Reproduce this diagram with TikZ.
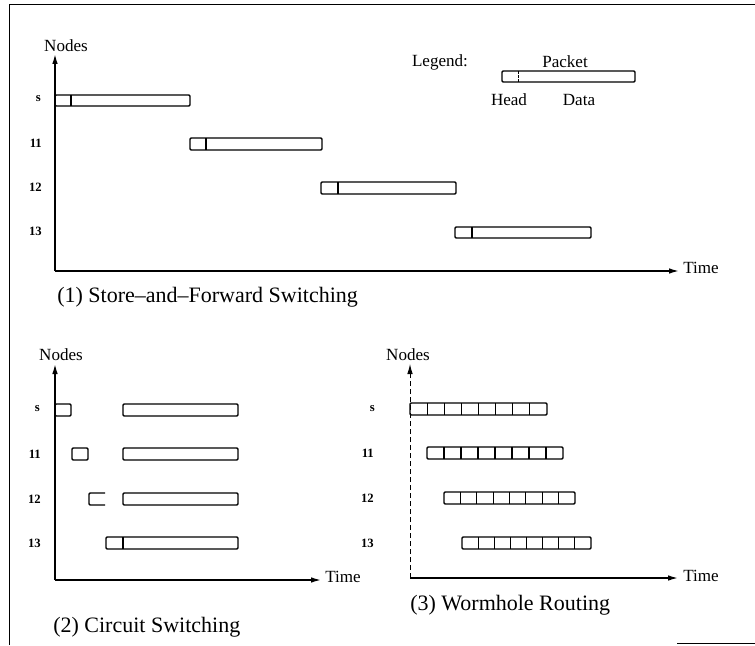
\documentclass[tikz,border=0pt]{standalone}
\usepackage{fontspec}
\setmainfont{Liberation Serif}
\usetikzlibrary{arrows.meta}
\begin{document}
\begin{tikzpicture}[x=0.75pt,y=-0.75pt,
  ln/.style={line width=0.8pt},
  bar/.style={draw, line width=1.1pt, rounded corners=0.8pt},
  axis/.style={line width=1.1pt, -{Latex[length=7.5pt,width=4.2pt]}},
  daxis/.style={line width=0.7pt, dash pattern=on 4pt off 2pt, -{Latex[length=7.5pt,width=4.2pt]}},
  lbl/.style={font=\fontsize{12.8}{14}\selectfont, inner sep=0pt},
  rowlbl/.style={font=\fontsize{9.5}{11}\selectfont\bfseries, inner sep=0pt, anchor=east},
  captxt/.style={font=\fontsize{16.5}{19}\selectfont, inner sep=0pt, anchor=west}]
\useasboundingbox (0,0) rectangle (755,645);
% frame
\coordinate (f1) at (9.5,645); \coordinate (f2) at (9.5,4.5); \coordinate (f3) at (755,4.5);
\draw[line width=1.3pt] (f1) -- (f2) -- (f3);
\coordinate (fb1) at (677,643.5); \coordinate (fb2) at (755,643.5);
\draw[line width=1.3pt] (fb1) -- (fb2);

% ---------- Panel 1 ----------
\coordinate (o1) at (55,271);
\coordinate (y1) at (55,54);
\coordinate (x1) at (679,271);
\draw[axis] (o1) -- (y1);
\draw[axis] (o1) -- (x1);
\node[lbl] (n1) at (66,46) {Nodes};
\node[lbl, anchor=west] (t1) at (683,268) {Time};
\node[rowlbl] (s1) at (41,99) {s};
\node[rowlbl] (a1) at (42,143) {11};
\node[rowlbl] (b1) at (42,187) {12};
\node[rowlbl] (c1) at (42,231) {13};
\draw[bar] (55,95) rectangle (190,106);   \draw[ln] (71,95) -- (71,106);
\draw[bar] (190,138) rectangle (322,150); \draw[ln] (206,138) -- (206,150);
\draw[bar] (321,182) rectangle (456,194); \draw[ln] (338,182) -- (338,194);
\draw[bar] (455,227) rectangle (591,238); \draw[ln] (472,227) -- (472,238);
% legend
\node[lbl] (lg) at (440,62) {Legend:};
\node[lbl] (pk) at (565,62) {Packet};
\draw[bar] (502,71) rectangle (635,82); \draw[line width=0.6pt, dash pattern=on 2pt off 1pt] (518,71) -- (518,82);
\node[lbl] (hd) at (509,100) {Head};
\node[lbl] (dt) at (579,100) {Data};
\node[captxt] (cap1) at (57,297) {(1) Store–and–Forward Switching};

% ---------- Panel 2 ----------
\coordinate (o2) at (55,580);
\coordinate (y2) at (55,364);
\coordinate (x2) at (321,580);
\draw[axis] (o2) -- (y2);
\draw[axis] (o2) -- (x2);
\node[lbl] (n2) at (61,355) {Nodes};
\node[lbl, anchor=west] (t2) at (325,577) {Time};
\node[rowlbl] (s2) at (40,409) {s};
\node[rowlbl] (a2) at (41,454) {11};
\node[rowlbl] (b2) at (41,499) {12};
\node[rowlbl] (c2) at (41,543) {13};
\draw[bar] (55,404) rectangle (71,416);
\draw[bar] (72,448) rectangle (88,460);
\draw[line width=1.1pt, rounded corners=0.8pt] (105,493) -- (89,493) -- (89,505) -- (105,505);
\draw[bar] (106,537) rectangle (238,549); \draw[ln] (123,537) -- (123,549);
\draw[bar] (123,404) rectangle (238,416);
\draw[bar] (123,448) rectangle (238,460);
\draw[bar] (123,493) rectangle (238,505);
\node[captxt] (cap2) at (53,627) {(2) Circuit Switching};

% ---------- Panel 3 ----------
\coordinate (o3) at (410,578);
\coordinate (y3) at (410,364);
\coordinate (x3) at (678,578);
\draw[daxis] (o3) -- (y3);
\draw[axis] (o3) -- (x3);
\node[lbl] (n3) at (408,355) {Nodes};
\node[lbl, anchor=west] (t3) at (683,576) {Time};
\node[rowlbl] (s3) at (375,409) {s};
\node[rowlbl] (a3) at (374,453) {11};
\node[rowlbl] (b3) at (374,498) {12};
\node[rowlbl] (c3) at (374,543) {13};
\foreach \xa/\xb/\ya in {410/547/403, 427/563/447, 444/575/492, 462/591/537}{
  \draw[bar] (\xa,\ya) rectangle (\xb,\ya+12);
  \foreach \k in {1,...,7}{
    \draw[ln] ({\xa+\k*(\xb-\xa)/8},\ya) -- ({\xa+\k*(\xb-\xa)/8},\ya+12);
  }
}
\node[captxt] (cap3) at (410,605) {(3) Wormhole Routing};
\end{tikzpicture}
\end{document}
